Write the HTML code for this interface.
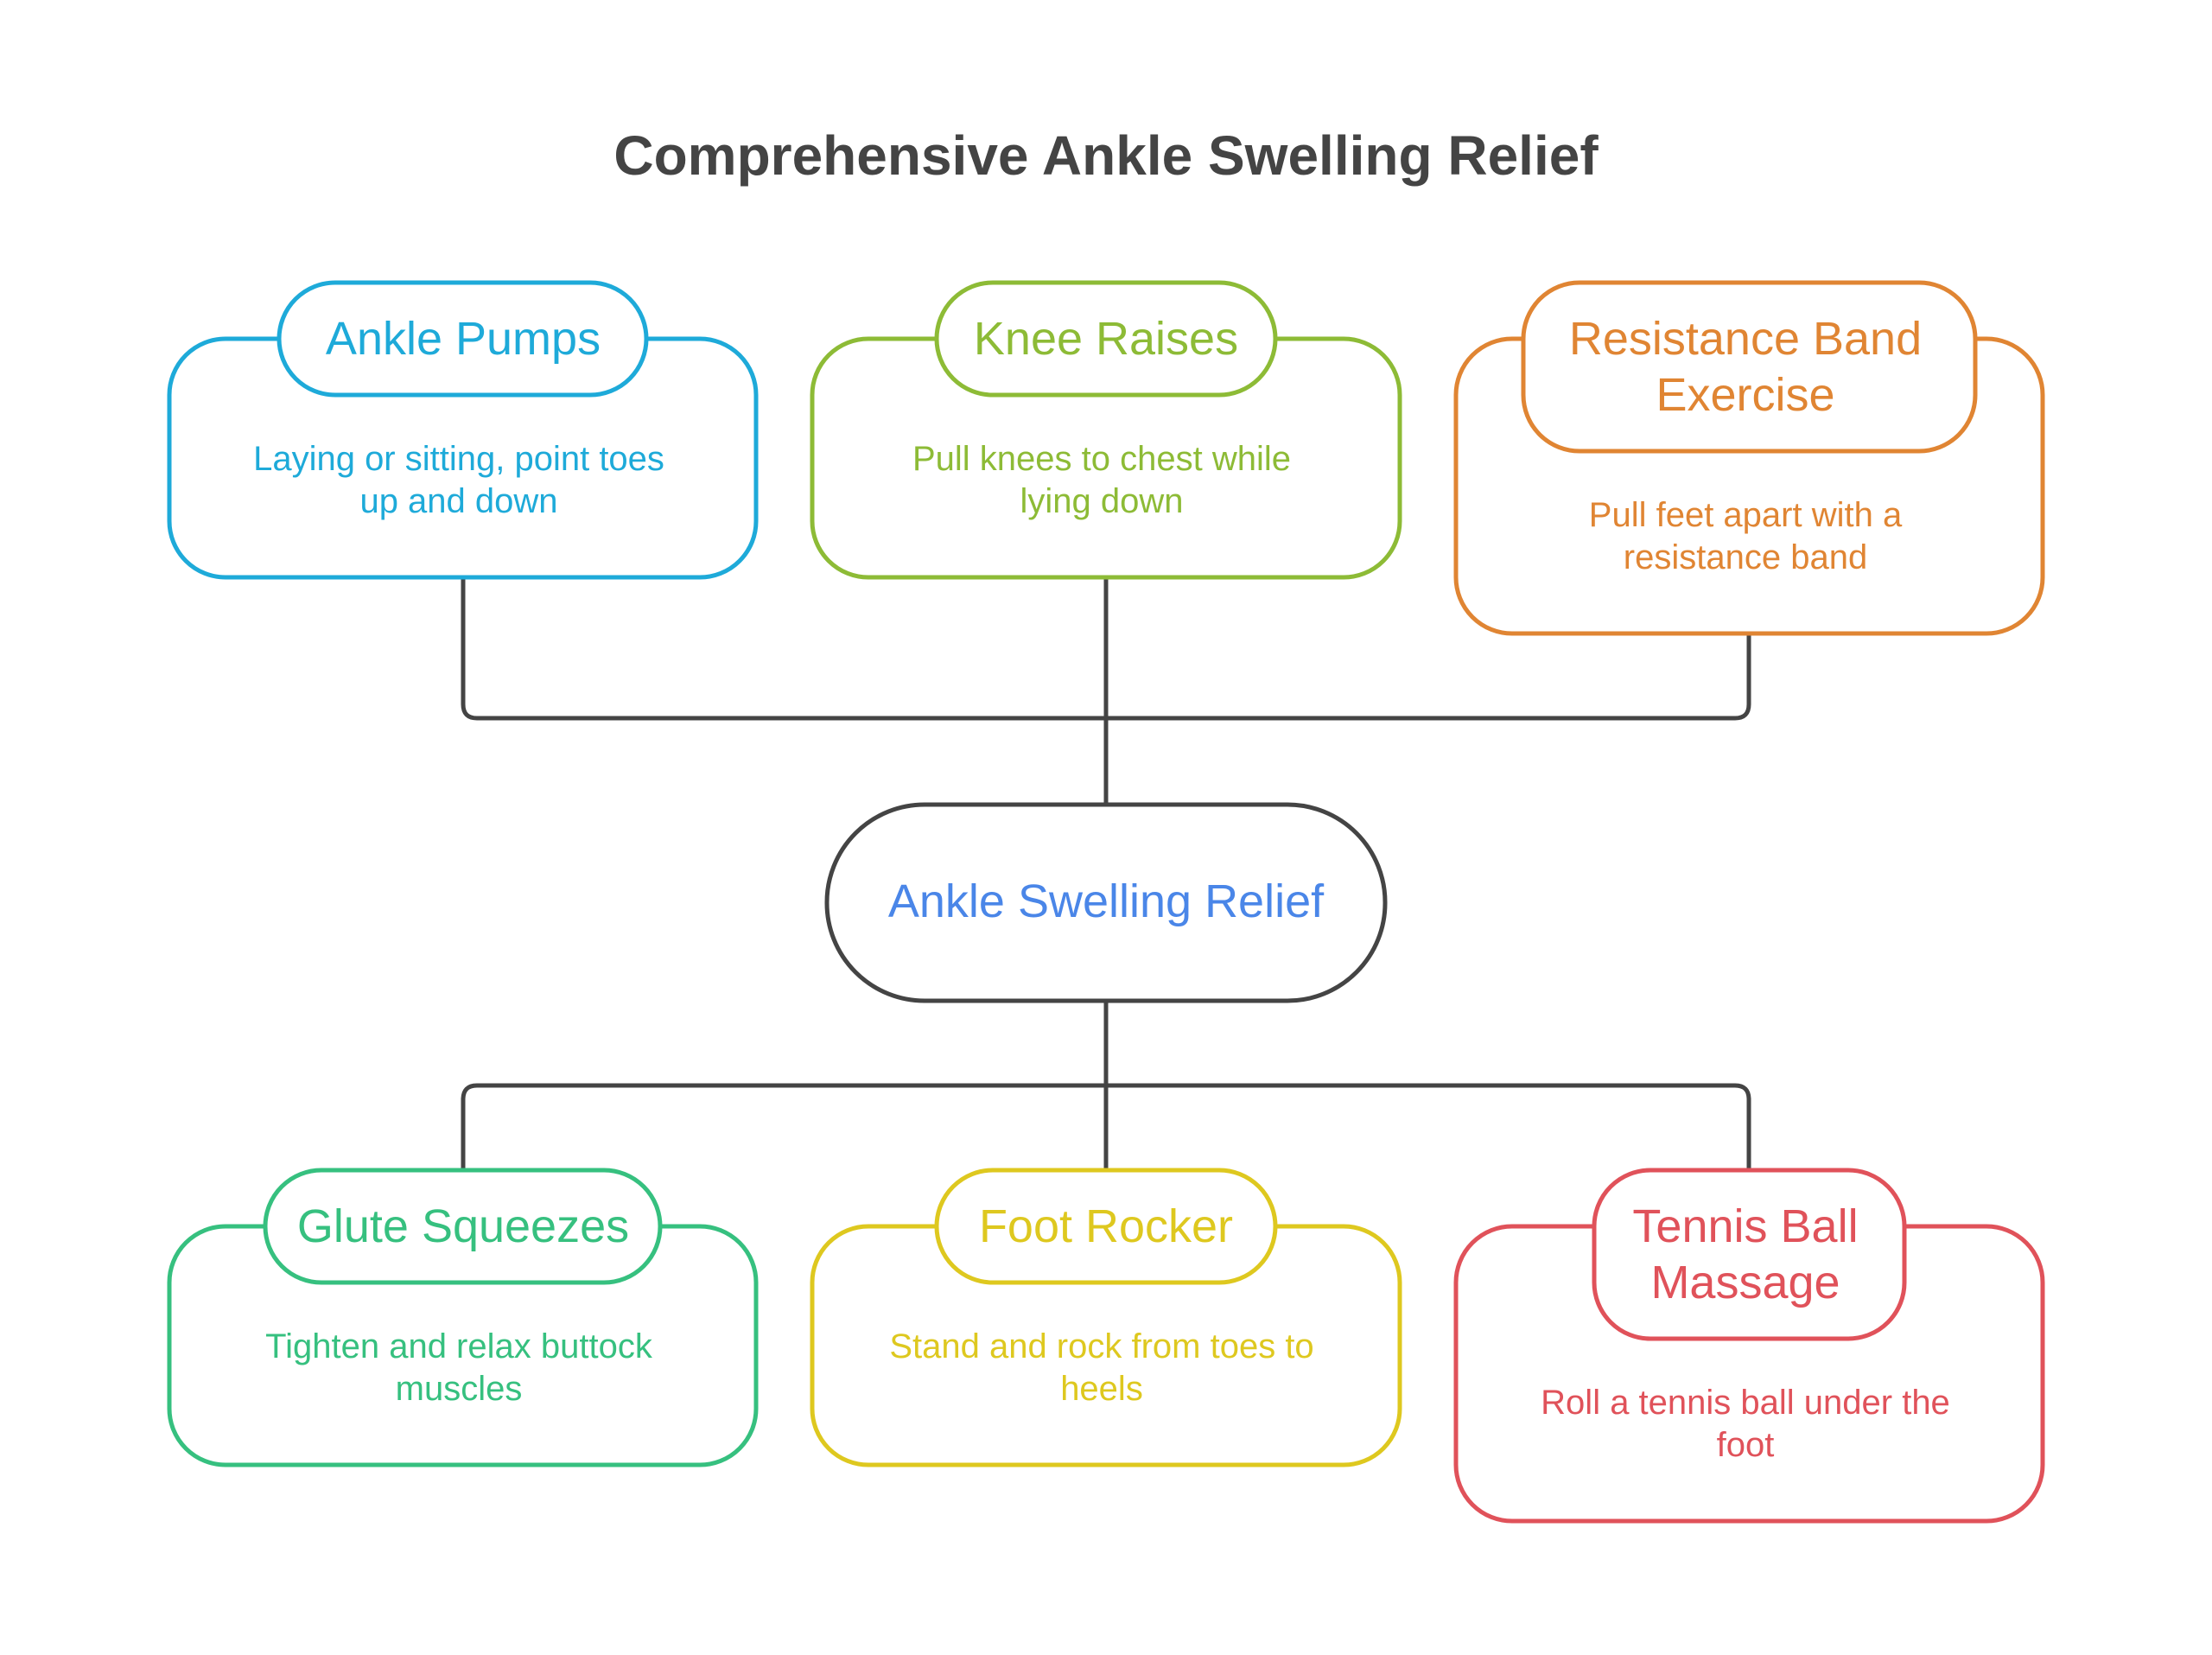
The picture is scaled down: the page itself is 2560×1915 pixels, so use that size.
<!DOCTYPE html>
<html><head><meta charset="utf-8"><style>
html,body{margin:0;padding:0;background:#fff;}
svg{display:block;}
text{font-family:"Liberation Sans",sans-serif;text-anchor:middle;dominant-baseline:central;}
</style></head><body>
<svg width="2560" height="1915" viewBox="0 0 2560 1915" xmlns="http://www.w3.org/2000/svg">
<rect width="2560" height="1915" fill="#fff"/>
<text x="1280" y="180" font-size="64" font-weight="bold" fill="#444">Comprehensive Ankle Swelling Relief</text>

<g fill="none" stroke="#444" stroke-width="5">
<path d="M536 668 V815 Q536 831 552 831 H2008 Q2024 831 2024 815 V733"/>
<path d="M1280 668 V931"/>
<path d="M1280 1158 V1354"/>
<path d="M536 1354 V1272 Q536 1256 552 1256 H2008 Q2024 1256 2024 1272 V1354"/>
<rect x="957" y="931" width="646" height="227" rx="113" fill="#fff"/>
</g>
<text x="1280" y="1043" font-size="54" fill="#4a86e8">Ankle Swelling Relief</text>

<g stroke-width="5" fill="#fff">
<rect x="196" y="392" width="679" height="276" rx="65" stroke="#1eaad9"/>
<rect x="323" y="327" width="425" height="130" rx="65" stroke="#1eaad9"/>
<rect x="940" y="392" width="680" height="276" rx="65" stroke="#8dbb36"/>
<rect x="1084" y="327" width="392" height="130" rx="65" stroke="#8dbb36"/>
<rect x="1685" y="392" width="679" height="341" rx="65" stroke="#e08533"/>
<rect x="1763" y="327" width="523" height="195" rx="65" stroke="#e08533"/>

<rect x="196" y="1419" width="679" height="276" rx="65" stroke="#36c07f"/>
<rect x="307" y="1354" width="457" height="130" rx="65" stroke="#36c07f"/>
<rect x="940" y="1419" width="680" height="276" rx="65" stroke="#dec81f"/>
<rect x="1084" y="1354" width="392" height="130" rx="65" stroke="#dec81f"/>
<rect x="1685" y="1419" width="679" height="341" rx="65" stroke="#e0525a"/>
<rect x="1845" y="1354" width="359" height="195" rx="65" stroke="#e0525a"/>
</g>

<g font-size="54">
<text x="536" y="392" fill="#1eaad9">Ankle Pumps</text>
<text x="1280" y="392" fill="#8dbb36">Knee Raises</text>
<text x="2020" y="392" fill="#e08533">Resistance Band</text>
<text x="2020" y="457" fill="#e08533">Exercise</text>
<text x="536" y="1419" fill="#36c07f">Glute Squeezes</text>
<text x="1280" y="1419" fill="#dec81f">Foot Rocker</text>
<text x="2020" y="1419" fill="#e0525a">Tennis Ball</text>
<text x="2020" y="1484" fill="#e0525a">Massage</text>
</g>
<g font-size="40">
<text x="531" y="531" fill="#1eaad9">Laying or sitting, point toes</text>
<text x="531" y="580" fill="#1eaad9">up and down</text>
<text x="1275" y="531" fill="#8dbb36">Pull knees to chest while</text>
<text x="1275" y="580" fill="#8dbb36">lying down</text>
<text x="2020" y="596" fill="#e08533">Pull feet apart with a</text>
<text x="2020" y="645" fill="#e08533">resistance band</text>
<text x="531" y="1558" fill="#36c07f">Tighten and relax buttock</text>
<text x="531" y="1607" fill="#36c07f">muscles</text>
<text x="1275" y="1558" fill="#dec81f">Stand and rock from toes to</text>
<text x="1275" y="1607" fill="#dec81f">heels</text>
<text x="2020" y="1623" fill="#e0525a">Roll a tennis ball under the</text>
<text x="2020" y="1672" fill="#e0525a">foot</text>
</g>
</svg>
</body></html>
